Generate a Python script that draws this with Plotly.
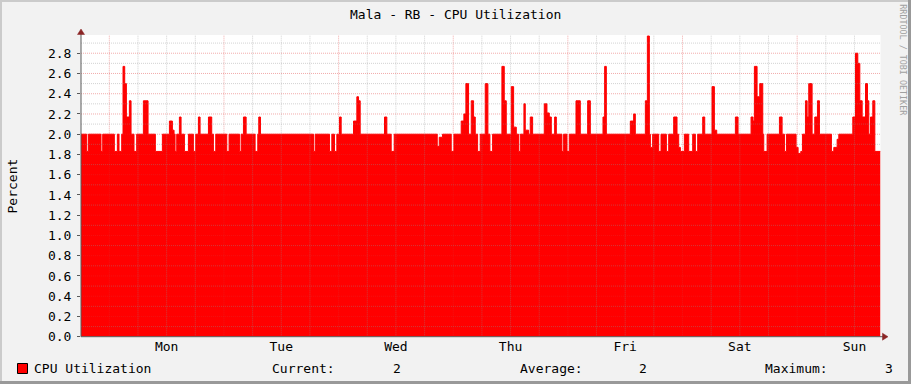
import plotly.graph_objects as go

W, H = 911, 384

# ---- data: CPU utilization (%), step breakpoints, hours since Monday 00:00 ----
time_h = [
    -5.93, -4.74, -4.39, -1.74, -1.39, 1.05, 1.68, 2.03, 2.59, 2.87, 3.22, 3.57, 4.20, 4.55,
    5.17, 5.73, 7.13, 8.11, 9.64, 11.11, 12.58, 13.20, 13.55, 13.76, 14.11, 14.67, 15.02,
    15.72, 16.56, 17.60, 18.09, 18.65, 19.00, 20.75, 21.44, 21.79, 22.28, 24.59, 25.07,
    27.24, 27.59, 28.08, 28.64, 30.52, 31.08, 31.29, 31.64,
    42.74, 43.09, 46.09, 46.58, 47.14, 47.63, 48.19, 48.54, 51.12, 51.82, 52.17, 52.52,
    57.61, 58.10, 59.01, 59.64, 68.65, 69.07, 69.76, 71.58, 72.14, 73.67, 74.23, 74.65,
    75.21, 75.77, 76.26, 76.61, 77.10, 77.65,
    78.70, 79.26, 79.68, 80.24, 82.19, 82.68, 83.10, 84.15, 84.64, 85.20, 85.68, 86.03,
    86.80, 87.08, 87.78, 88.13, 88.62, 91.06, 91.62, 92.11, 92.53, 93.23, 93.58, 94.76,
    95.11, 95.81, 96.30, 97.70, 98.60, 100.14, 100.70, 103.35, 103.70, 104.05, 109.08,
    109.77, 110.12, 112.22, 112.64, 113.06, 113.27, 113.75, 115.01, 115.50, 116.62,
    117.11, 118.15,
    118.85, 119.20, 119.55, 120.39, 121.30, 122.13, 122.69, 123.18, 124.23, 124.65,
    126.18, 126.67, 127.16, 131.07, 131.63, 134.35, 134.77, 135.05, 135.61, 136.17,
    136.80, 137.01, 137.71, 140.29, 140.85, 141.34, 141.76, 143.78, 144.20, 144.76,
    145.11, 145.74, 146.09, 146.43, 147.13, 147.69, 148.25, 148.67, 151.18, 151.67,
    152.37, 152.72, 155.65, 156.21, 156.70, 157.12, 157.61, 158.31, 158.73, 159.00,
    159.35, 159.84, 160.26, 161.45,
]
cpu_pct = [
    2.0, 1.83, 2.0, 1.83, 2.0, 1.83, 2.0, 1.83, 2.0, 2.67, 2.5, 2.17, 2.33, 2.0,
    1.83, 2.0, 2.33, 2.0, 1.83, 2.0, 2.13, 2.04, 2.0, 1.83, 2.0, 2.17, 2.0,
    1.83, 2.0, 1.83, 2.0, 2.17, 2.0, 2.17, 2.0, 1.83, 2.0, 1.83, 2.0,
    1.83, 2.0, 2.17, 2.0, 1.83, 2.0, 2.17, 2.0,
    1.83, 2.0, 1.83, 2.0, 1.83, 2.0, 2.17, 2.0, 2.13, 2.37, 2.33, 2.0,
    2.17, 2.0, 1.83, 2.0, 1.88, 1.97, 2.0, 1.83, 2.0, 2.13, 2.2, 2.5,
    2.0, 2.33, 2.17, 2.0, 1.83, 2.0,
    2.5, 2.0, 1.83, 2.0, 2.67, 2.33, 2.0, 2.47, 2.07, 2.0, 1.83, 2.0,
    2.3, 2.04, 2.0, 2.17, 2.0, 2.3, 2.21, 2.17, 2.0, 2.17, 2.0, 1.83,
    2.0, 1.83, 2.0, 2.33, 2.0, 2.33, 2.0, 2.17, 2.67, 2.0, 2.13,
    2.2, 2.0, 2.33, 2.97, 2.0, 1.87, 2.0, 1.83, 2.0, 1.83,
    2.0, 2.17,
    2.0, 1.87, 1.83, 2.0, 1.83, 2.0, 1.83, 2.0, 2.17, 2.0,
    2.47, 2.04, 2.0, 2.17, 2.0, 2.17, 2.13, 2.67, 2.37, 2.5,
    2.0, 1.83, 2.0, 2.17, 2.0, 1.83, 2.0, 1.87, 1.81, 1.83,
    2.0, 2.33, 2.17, 2.5, 2.0, 2.17, 2.33, 2.0, 1.83, 1.87,
    1.95, 2.0, 2.17, 2.8, 2.7, 2.33, 2.17, 2.5, 2.33, 2.0,
    2.17, 2.33, 1.83, 1.83,
]

day_labels = ["Mon", "Tue", "Wed", "Thu", "Fri", "Sat", "Sun"]
day_noon_h = [12, 36, 60, 84, 108, 132, 156]
y_ticks = [0.0, 0.2, 0.4, 0.6, 0.8, 1.0, 1.2, 1.4, 1.6, 1.8, 2.0, 2.2, 2.4, 2.6, 2.8]

title = "Mala - RB - CPU Utilization"
series_name = "CPU Utilization"
stat_current, stat_average, stat_maximum = "2", "2", "3"

X_RANGE = [-5.93, 161.45]
Y_RANGE = [0, 2.98]

# plot area in pixels
PL, PR, PT, PB = 81, 880.5, 35, 336.7


def px(x):
    return x / W


def py(y):
    return 1 - y / H


FONT = "DejaVu Sans Mono"

fig = go.Figure()
fig.add_trace(go.Scatter(
    x=time_h, y=cpu_pct, mode="lines", name=series_name,
    line=dict(shape="hv", color="#ff0000", width=1),
    fill="tozeroy", fillcolor="#ff0000", hoverinfo="skip",
))

shapes = []
# grid (drawn above the area, like rrdtool)
GRAY = "rgba(143,143,143,0.40)"
RED = "rgba(222,48,48,0.40)"
for h in range(6, 162, 6):
    shapes.append(dict(type="line", xref="x", yref="y", x0=h, x1=h, y0=0, y1=Y_RANGE[1],
                       line=dict(color=RED if h % 24 == 0 else GRAY, width=1, dash="1px,1px"),
                       layer="above"))
shapes.append(dict(type="line", xref="x", yref="y", x0=0, x1=0, y0=0, y1=Y_RANGE[1],
                   line=dict(color=RED, width=1, dash="1px,1px"), layer="above"))
for k in range(1, 30):
    v = k / 10
    shapes.append(dict(type="line", xref="x", yref="y", x0=X_RANGE[0], x1=X_RANGE[1], y0=v, y1=v,
                       line=dict(color=RED if k % 2 == 0 else GRAY, width=1, dash="1px,1px"),
                       layer="above"))

AXC = "#5a5a5a"
ARC = "#8b2525"
# axis lines
shapes.append(dict(type="line", xref="paper", yref="paper", x0=px(PL), x1=px(PL),
                   y0=py(PB), y1=py(PT - 2), line=dict(color=AXC, width=1), layer="above"))
shapes.append(dict(type="line", xref="paper", yref="paper", x0=px(PL), x1=px(884),
                   y0=py(PB), y1=py(PB), line=dict(color=AXC, width=1), layer="above"))
# arrows
shapes.append(dict(type="path", xref="paper", yref="paper",
                   path=f"M {px(77.5)} {py(34.5)} L {px(84.5)} {py(34.5)} L {px(81)} {py(29)} Z",
                   fillcolor=ARC, line=dict(color=ARC, width=0.5), layer="above"))
shapes.append(dict(type="path", xref="paper", yref="paper",
                   path=f"M {px(882.5)} {py(PB - 3.5)} L {px(882.5)} {py(PB + 3.5)} L {px(888)} {py(PB)} Z",
                   fillcolor=ARC, line=dict(color=ARC, width=0.5), layer="above"))
# 3D frame
shapes.append(dict(type="rect", xref="paper", yref="paper", x0=0, x1=1, y0=py(2), y1=1,
                   fillcolor="#cbcbcb", line=dict(width=0)))
shapes.append(dict(type="rect", xref="paper", yref="paper", x0=0, x1=px(2), y0=0, y1=1,
                   fillcolor="#cbcbcb", line=dict(width=0)))
shapes.append(dict(type="rect", xref="paper", yref="paper", x0=0, x1=1, y0=0, y1=py(381),
                   fillcolor="#999999", line=dict(width=0)))
shapes.append(dict(type="rect", xref="paper", yref="paper", x0=px(908), x1=1, y0=0, y1=1,
                   fillcolor="#999999", line=dict(width=0)))
# legend swatch
shapes.append(dict(type="rect", xref="paper", yref="paper", x0=px(17.5), x1=px(27.5),
                   y0=py(373.5), y1=py(363.5), fillcolor="#ff0000",
                   line=dict(color="#000000", width=1)))

ann = []
ann.append(dict(text=title, x=px(455.5), y=py(14), xref="paper", yref="paper",
                xanchor="center", yanchor="middle", showarrow=False,
                font=dict(family=FONT, size=13, color="#000")))
ann.append(dict(text="Percent", x=px(11.5), y=py(186), xref="paper", yref="paper",
                xanchor="center", yanchor="middle", showarrow=False, textangle=-90,
                font=dict(family=FONT, size=13, color="#000")))
ann.append(dict(text="RRDTOOL / TOBI OETIKER", x=px(902.7), y=py(60), xref="paper", yref="paper",
                xanchor="center", yanchor="middle", showarrow=False, textangle=90,
                font=dict(family=FONT, size=8.4, color="#a0a0a0")))
LY = 368.3
legend_items = [
    (series_name, 32.3, "left"),
    ("Current:", 270.0, "left"),
    (stat_current, 396.7, "center"),
    ("Average:", 517.6, "left"),
    (stat_average, 643.3, "center"),
    ("Maximum:", 763.3, "left"),
    (stat_maximum, 889.3, "center"),
]
for txt, xx, anc in legend_items:
    ann.append(dict(text=txt, x=px(xx), y=py(LY), xref="paper", yref="paper",
                    xanchor=anc, yanchor="middle", showarrow=False,
                    font=dict(family=FONT, size=13, color="#000")))

fig.update_layout(
    width=W, height=H, margin=dict(l=0, r=0, t=0, b=0, pad=0), autosize=False,
    paper_bgcolor="#f2f2f2", plot_bgcolor="#ffffff", showlegend=False,
    font=dict(family=FONT, size=13, color="#000"),
    shapes=shapes, annotations=ann,
    xaxis=dict(domain=[px(PL), px(PR)], range=X_RANGE, tickvals=day_noon_h, ticktext=day_labels,
               showgrid=False, zeroline=False, showline=False, ticks="", automargin=False,
               tickfont=dict(family=FONT, size=13, color="#000"), ticklabelstandoff=0,
               fixedrange=True),
    yaxis=dict(domain=[py(PB), py(PT)], range=Y_RANGE, tickvals=y_ticks,
               ticktext=[f"{v:.1f}" for v in y_ticks], automargin=False,
               showgrid=False, zeroline=False, showline=False, ticks="outside", ticklen=3,
               tickcolor=AXC, tickfont=dict(family=FONT, size=13, color="#000"),
               ticklabelstandoff=3, fixedrange=True),
)

fig.write_html("out.html")
